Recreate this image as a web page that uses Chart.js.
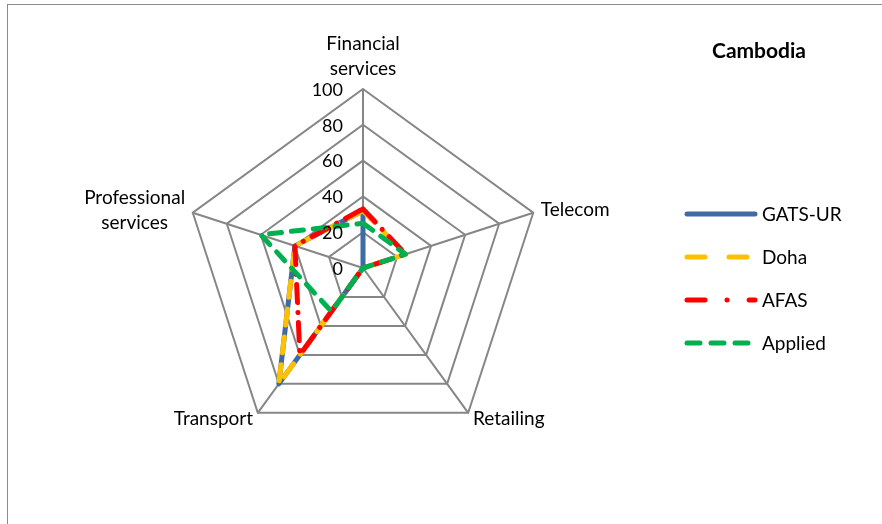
<!DOCTYPE html>
<html>
<head>
<meta charset="utf-8">
<script src="https://cdn.jsdelivr.net/npm/chart.js@4.4.1/dist/chart.umd.min.js"></script>
<style>
    html, body { margin: 0; padding: 0; background: #fff; }
    #wrap { position: relative; width: 882px; height: 524px; overflow: hidden; }
    #frame { position: absolute; left: 7px; top: 4px; width: 900px; height: 600px;
             border-left: 1.5px solid #8c8c8c; border-top: 1.5px solid #8c8c8c; }
    #radarChart { position: absolute; left: 0; top: 0; }
</style>
</head>
<body>
<div id="wrap">
    <div id="frame"></div>
    <canvas id="radarChart" width="882" height="524"></canvas>
</div>
<script>
// sectors round the radar, clockwise from the top
var categories = [
    ["Financial", "services"],
    ["Telecom"],
    ["Retailing"],
    ["Transport"],
    ["Professional", "services"]
];
var tickValues = [0, 20, 40, 60, 80, 100];

var gatsUr  = [32, 0, 0, 80, 40];
var doha    = [32, 25, 0, 80, 40];
var afas    = [33, 25, 0, 60, 40];
var applied = [25, 25, 0, 30, 60];

var chartTitle = "Cambodia";

var FONT = "Lato, 'Open Sans', sans-serif";

// tick numbers, sector names, legend and the country name
var textPlugin = {
    id: 'radarText',
    afterDraw: function(chart) {
        var ctx = chart.ctx;
        var r = chart.scales.r;
        ctx.save();
        ctx.fillStyle = '#000';

        // tick labels, right aligned left of the vertical axis
        ctx.font = "18px " + FONT;
        ctx.textAlign = 'right';
        ctx.textBaseline = 'middle';
        r.ticks.forEach(function(t) {
            var y = r.yCenter - r.getDistanceFromCenterForValue(t.value);
            ctx.fillText(String(t.value), r.xCenter - 20, y + 1);
        });

        // sector labels
        ctx.font = "19px " + FONT;
        var lh = 25;
        categories.forEach(function(lines, i) {
            var pos = r.getPointPosition(i, r.drawingArea + 8);
            var w = 0;
            lines.forEach(function(s) { w = Math.max(w, ctx.measureText(s).width); });
            var dx = pos.x - r.xCenter;
            var cx, top;
            if (Math.abs(dx) < 1) {
                cx = pos.x;
                top = pos.y - lines.length * lh;
            } else {
                cx = dx > 0 ? pos.x + w / 2 : pos.x - w / 2;
                top = pos.y - lines.length * lh / 2;
            }
            ctx.textAlign = 'center';
            lines.forEach(function(s, k) {
                ctx.fillText(s, cx, top + lh / 2 + k * lh);
            });
        });

        // country name
        ctx.font = "bold 21px " + FONT;
        ctx.textAlign = 'center';
        ctx.fillText(chartTitle, 759, 51);

        // legend
        ctx.font = "19px " + FONT;
        ctx.textAlign = 'left';
        chart.data.datasets.forEach(function(ds, i) {
            var y = 214 + i * 43;
            ctx.beginPath();
            ctx.strokeStyle = ds.borderColor;
            ctx.lineWidth = ds.borderWidth;
            ctx.lineCap = 'round';
            ctx.setLineDash(ds.legendDash || ds.borderDash || []);
            ctx.moveTo(687, y);
            ctx.lineTo(755, y);
            ctx.stroke();
            ctx.setLineDash([]);
            ctx.fillText(ds.label, 762, y + 1);
        });
        ctx.restore();
    }
};

var radarChart = new Chart(document.getElementById('radarChart').getContext('2d'), {
    type: 'radar',
    data: {
        labels: categories,
        datasets: [
            {
                label: "GATS-UR",
                data: gatsUr,
                borderColor: "#3e6aa6",
                borderWidth: 5,
                borderCapStyle: 'round',
                borderJoinStyle: 'round',
                fill: false,
                pointRadius: 0,
                order: 3
            },
            {
                label: "Doha",
                data: doha,
                borderColor: "#ffc000",
                borderWidth: 5,
                borderDash: [16, 12],
                legendDash: [18, 24],
                borderCapStyle: 'round',
                borderJoinStyle: 'round',
                fill: false,
                pointRadius: 0,
                order: 2
            },
            {
                label: "AFAS",
                data: afas,
                borderColor: "#ff0000",
                borderWidth: 5,
                borderDash: [18, 10, 0.1, 10],
                legendDash: [18, 22, 0.1, 22],
                borderCapStyle: 'round',
                borderJoinStyle: 'round',
                fill: false,
                pointRadius: 0,
                order: 1
            },
            {
                label: "Applied",
                data: applied,
                borderColor: "#00b050",
                borderWidth: 5,
                borderDash: [12, 10],
                legendDash: [13, 11],
                borderCapStyle: 'round',
                borderJoinStyle: 'round',
                fill: false,
                pointRadius: 0,
                order: 0
            }
        ]
    },
    options: {
        responsive: false,
        animation: false,
        layout: {
            padding: { left: 184, right: 340, top: 89, bottom: 77 }
        },
        plugins: {
            legend: { display: false },
            title: { display: false },
            tooltip: { enabled: false }
        },
        scales: {
            r: {
                min: 0,
                max: 100,
                ticks: { stepSize: 20, display: false },
                grid: { color: "#868686", lineWidth: 2 },
                angleLines: { color: "#868686", lineWidth: 2 },
                pointLabels: { display: false }
            }
        }
    },
    plugins: [textPlugin]
});
</script>
</body>
</html>
